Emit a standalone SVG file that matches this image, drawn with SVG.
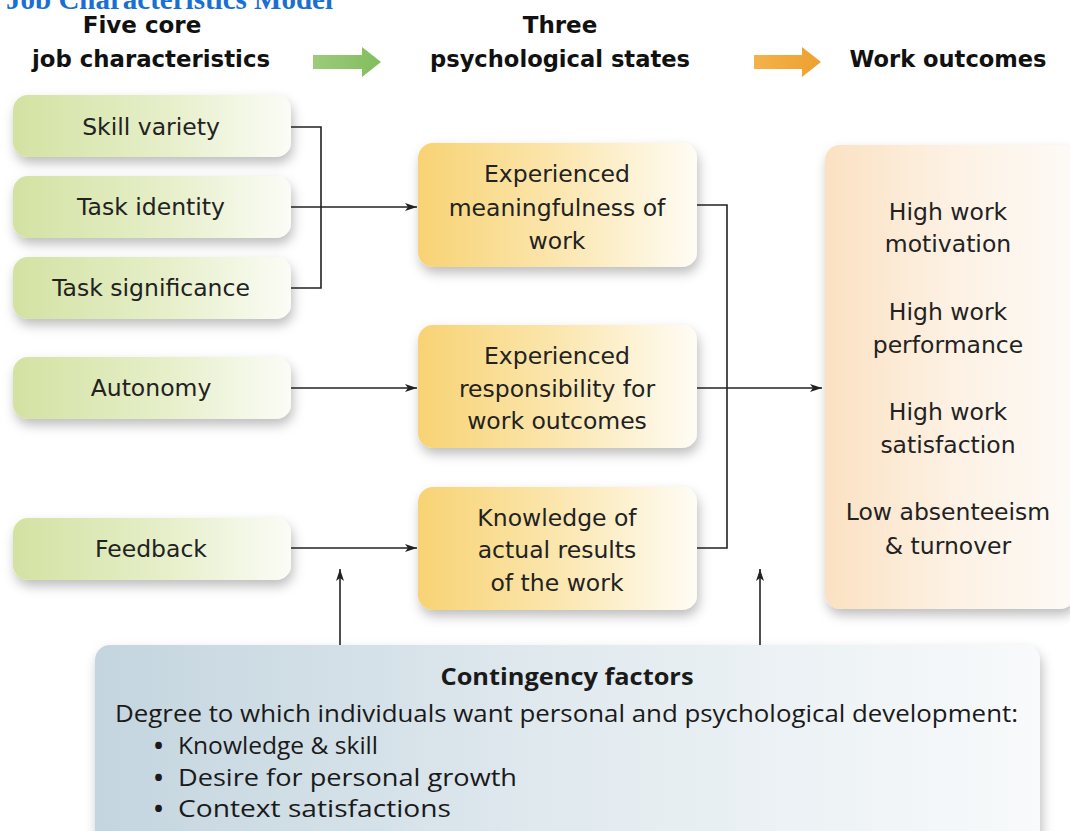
<svg xmlns="http://www.w3.org/2000/svg" width="1070" height="831" viewBox="0 0 1070 831">
<defs>
<linearGradient id="gGreen" x1="0" y1="0" x2="1" y2="0"><stop offset="0" stop-color="#d3e2a2"/><stop offset="0.55" stop-color="#e6efc9"/><stop offset="1" stop-color="#fbfcf6"/></linearGradient>
<linearGradient id="gYellow" x1="0" y1="0" x2="1" y2="0"><stop offset="0" stop-color="#f8d374"/><stop offset="0.5" stop-color="#fbe6ae"/><stop offset="1" stop-color="#fefcf4"/></linearGradient>
<linearGradient id="gPeach" x1="0" y1="0" x2="1" y2="0"><stop offset="0" stop-color="#fbe1c2"/><stop offset="0.5" stop-color="#fdf1e3"/><stop offset="1" stop-color="#fdfaf6"/></linearGradient>
<linearGradient id="gBlue" x1="0" y1="0" x2="1" y2="0"><stop offset="0" stop-color="#c4d5df"/><stop offset="0.5" stop-color="#e1eaef"/><stop offset="1" stop-color="#f8fafb"/></linearGradient>
<linearGradient id="gArrG" x1="0" y1="0" x2="1" y2="0"><stop offset="0" stop-color="#9ccb7c"/><stop offset="1" stop-color="#82bd5c"/></linearGradient>
<linearGradient id="gArrO" x1="0" y1="0" x2="1" y2="0"><stop offset="0" stop-color="#f3b24a"/><stop offset="1" stop-color="#eda12f"/></linearGradient>
<filter id="sh" x="-10%" y="-20%" width="125%" height="150%"><feDropShadow dx="2" dy="6" stdDeviation="6" flood-color="#000" flood-opacity="0.26"/></filter>
<marker id="ah" viewBox="0 0 12 8" refX="12" refY="4" markerWidth="12" markerHeight="8" markerUnits="userSpaceOnUse" orient="auto"><path d="M0,0 L12,4 L0,8 L3,4 z" fill="#222"/></marker>
</defs>
<style>
.t{font-family:"DejaVu Sans",Verdana,sans-serif;font-size:23.5px;fill:#222;text-anchor:middle}
.h{font-family:"DejaVu Sans",Verdana,sans-serif;font-size:23px;font-weight:bold;fill:#111;text-anchor:middle}
.c{font-family:"Open Sans","Liberation Sans",sans-serif;font-size:24px;fill:#1a1a1a}
.ln{fill:none;stroke:#222;stroke-width:1.6}
</style>
<rect width="1070" height="831" fill="#fff"/>
<text x="333" y="9" text-anchor="end" font-family="Liberation Serif,serif" font-weight="bold" font-size="29" fill="#1b6fd1">Job Characteristics Model</text>

<g id="headers">
<text class="h" x="142" y="33">Five core</text>
<text class="h" x="151" y="67" textLength="238" lengthAdjust="spacingAndGlyphs">job characteristics</text>
<text class="h" x="560" y="33">Three</text>
<text class="h" x="560" y="67" textLength="260" lengthAdjust="spacingAndGlyphs">psychological states</text>
<text class="h" x="948" y="67" textLength="197" lengthAdjust="spacingAndGlyphs">Work outcomes</text>
<path d="M313,55 L362,55 L362,47 L381,62 L362,77 L362,69 L313,69 z" fill="url(#gArrG)"/>
<path d="M754,55 L802,55 L802,47 L821,62 L802,77 L802,69 L754,69 z" fill="url(#gArrO)"/>
</g>

<g id="skill-variety"><rect x="13" y="95" width="278" height="62" rx="15" fill="url(#gGreen)" filter="url(#sh)"/><text class="t" x="151" y="135">Skill variety</text></g>
<g id="task-identity"><rect x="13" y="176" width="278" height="62" rx="15" fill="url(#gGreen)" filter="url(#sh)"/><text class="t" x="151" y="215">Task identity</text></g>
<g id="task-significance"><rect x="13" y="257" width="278" height="62" rx="15" fill="url(#gGreen)" filter="url(#sh)"/><text class="t" x="151" y="296">Task significance</text></g>
<g id="autonomy"><rect x="13" y="357" width="278" height="62" rx="15" fill="url(#gGreen)" filter="url(#sh)"/><text class="t" x="151" y="396">Autonomy</text></g>
<g id="feedback"><rect x="13" y="518" width="278" height="62" rx="15" fill="url(#gGreen)" filter="url(#sh)"/><text class="t" x="151" y="557">Feedback</text></g>

<g id="meaningfulness"><rect x="418" y="143" width="279" height="124" rx="15" fill="url(#gYellow)" filter="url(#sh)"/>
<text class="t" x="557" y="182">Experienced</text><text class="t" x="557" y="216">meaningfulness of</text><text class="t" x="557" y="249">work</text></g>
<g id="responsibility"><rect x="418" y="325" width="279" height="123" rx="15" fill="url(#gYellow)" filter="url(#sh)"/>
<text class="t" x="557" y="364">Experienced</text><text class="t" x="557" y="397">responsibility for</text><text class="t" x="557" y="429">work outcomes</text></g>
<g id="knowledge"><rect x="418" y="487" width="279" height="123" rx="15" fill="url(#gYellow)" filter="url(#sh)"/>
<text class="t" x="557" y="526">Knowledge of</text><text class="t" x="557" y="558">actual results</text><text class="t" x="557" y="591">of the work</text></g>

<g id="work-outcomes"><rect x="825" y="145" width="250" height="464" rx="15" fill="url(#gPeach)" filter="url(#sh)"/>
<text class="t" x="948" y="220">High work</text><text class="t" x="948" y="252">motivation</text>
<text class="t" x="948" y="320">High work</text><text class="t" x="948" y="353">performance</text>
<text class="t" x="948" y="420">High work</text><text class="t" x="948" y="453">satisfaction</text>
<text class="t" x="948" y="520">Low absenteeism</text><text class="t" x="948" y="554">&amp; turnover</text></g>

<g id="contingency"><rect x="95" y="645" width="945" height="200" rx="15" fill="url(#gBlue)" filter="url(#sh)"/>
<text class="c" x="567" y="685" text-anchor="middle" font-weight="bold" textLength="253" lengthAdjust="spacingAndGlyphs">Contingency factors</text>
<text class="c" x="115" y="722" textLength="903" lengthAdjust="spacingAndGlyphs">Degree to which individuals want personal and psychological development:</text>
<text class="c" x="154" y="754" font-weight="bold">•</text><text class="c" x="178" y="754" textLength="200" lengthAdjust="spacingAndGlyphs">Knowledge &amp; skill</text>
<text class="c" x="154" y="786" font-weight="bold">•</text><text class="c" x="178" y="786" textLength="339" lengthAdjust="spacingAndGlyphs">Desire for personal growth</text>
<text class="c" x="154" y="817" font-weight="bold">•</text><text class="c" x="178" y="817" textLength="273" lengthAdjust="spacingAndGlyphs">Context satisfactions</text></g>

<g id="connectors">
<path class="ln" d="M291,127 H321 V288 H291"/>
<path class="ln" d="M291,207 H417" marker-end="url(#ah)"/>
<path class="ln" d="M291,388 H417" marker-end="url(#ah)"/>
<path class="ln" d="M291,548 H417" marker-end="url(#ah)"/>
<path class="ln" d="M697,205 H727 V548 H697"/>
<path class="ln" d="M697,388 H822" marker-end="url(#ah)"/>
<path class="ln" d="M340,645 V569" marker-end="url(#ah)"/>
<path class="ln" d="M760,645 V569" marker-end="url(#ah)"/>
</g>
</svg>
